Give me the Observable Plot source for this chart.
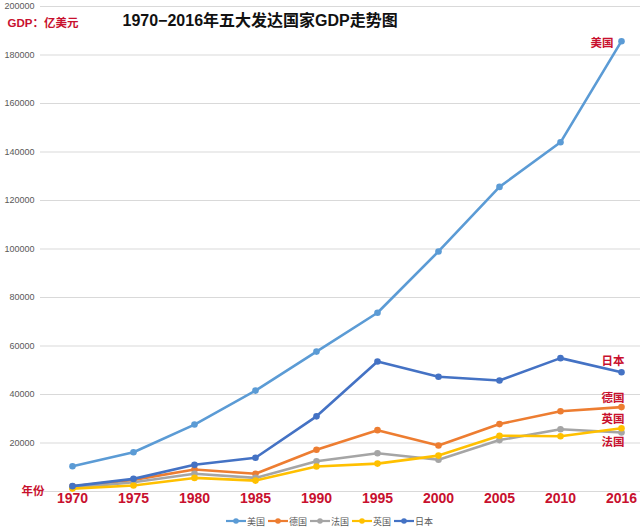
<!DOCTYPE html>
<html>
<head>
<meta charset="utf-8">
<script src="https://cdn.jsdelivr.net/npm/d3@7"></script>
<script src="https://cdn.jsdelivr.net/npm/@observablehq/plot@0.6"></script>
<style>
  html, body { margin: 0; padding: 0; background: #fff; }
  body { width: 640px; height: 530px; overflow: hidden; font-family: "Liberation Sans", "Noto Sans CJK SC", sans-serif; }
  #legend { height: 18px; display: flex; justify-content: center; align-items: center; padding-left: 22px; font-size: 9px; color: #595959; }
  #legend .item { display: flex; align-items: center; margin-right: 3px; }
  #legend svg { margin-right: 1px; }
</style>
</head>
<body>
<div id="chart"></div>
<div id="legend"></div>
<script>
const years = ["1970", "1975", "1980", "1985", "1990", "1995", "2000", "2005", "2010", "2016"];
const names = ["美国", "德国", "法国", "英国", "日本"];
const colors = ["#5B9BD5", "#ED7D31", "#A5A5A5", "#FFC000", "#4472C4"];
const us      = [10400, 16200, 27600, 41600, 57700, 73700, 99000, 125600, 144000, 185700];
const germany = [2100, 4800, 9100, 7300, 17200, 25300, 19000, 27800, 33100, 34800];
const france  = [1500, 3800, 7300, 5600, 12500, 15800, 13100, 21200, 25700, 24300];
const uk      = [1200, 2500, 5600, 4500, 10300, 11500, 14800, 23000, 22800, 26100];
const japan   = [2200, 5200, 11000, 13900, 31000, 53600, 47300, 45800, 55000, 49200];
const yTicks = [20000, 40000, 60000, 80000, 100000, 120000, 140000, 160000, 180000, 200000];
const gridTicks = [0, ...yTicks];
const title = "1970−2016年五大发达国家GDP走势图";
const unitLabel = "GDP：亿美元";
const xAxisLabel = "年份";

const seriesValues = [us, germany, france, uk, japan];
const series = names.map((name, i) => ({
  name, color: colors[i],
  data: years.map((year, j) => ({year, value: seriesValues[i][j], name}))
}));

const red = "#C8102E";
const font = "'Liberation Sans', 'Noto Sans CJK SC', sans-serif";

// end-label offsets (styling, in code)
const labelOffsets = {"美国": [-8, 2], "日本": [3, -11], "德国": [3, -9], "英国": [3, -9], "法国": [3, 10]};

const marks = [
  Plot.gridY(gridTicks, {stroke: "#D9D9D9", strokeOpacity: 1}),
  Plot.axisY(yTicks, {tickSize: 0, tickPadding: 6, tickFormat: d => String(d), fontSize: 9, fill: "#595959", label: null}),
  Plot.axisX({tickSize: 0, tickPadding: 2, fontSize: 14, fontWeight: "bold", fill: red, label: null})
];
for (const s of series) {
  marks.push(Plot.line(s.data, {x: "year", y: "value", stroke: s.color, strokeWidth: 2.6, strokeLinejoin: "round"}));
  marks.push(Plot.dot(s.data, {x: "year", y: "value", fill: s.color, r: 3.3}));
}
for (const s of series) {
  const last = s.data[s.data.length - 1];
  const [dx, dy] = labelOffsets[s.name];
  marks.push(Plot.text([last], {x: "year", y: "value", text: "name", textAnchor: "end", dx, dy, fill: red, fontWeight: "bold", fontSize: 11.5}));
}
marks.push(Plot.text([title], {frameAnchor: "top-left", dx: 82, dy: 14, lineAnchor: "middle", textAnchor: "start", fontSize: 16, fontWeight: "bold", fill: "#111"}));
marks.push(Plot.text([unitLabel], {frameAnchor: "top-left", dx: -33, dy: 17, lineAnchor: "middle", textAnchor: "start", fontSize: 11.5, fontWeight: "bold", fill: red}));
marks.push(Plot.text([xAxisLabel], {frameAnchor: "bottom-left", dx: -19, dy: 0, lineAnchor: "middle", textAnchor: "start", fontSize: 11.5, fontWeight: "bold", fill: red}));

const chart = Plot.plot({
  width: 640, height: 512,
  marginLeft: 40, marginRight: 0, marginTop: 6, marginBottom: 21,
  style: {fontFamily: font, background: "#fff"},
  x: {type: "point", domain: years, range: [71, 622], padding: 0},
  y: {domain: [0, 200000]},
  marks
});
document.getElementById("chart").appendChild(chart);

const legend = document.getElementById("legend");
for (const s of series) {
  const item = document.createElement("div");
  item.className = "item";
  item.innerHTML = `<svg width="20" height="8"><line x1="0" y1="4" x2="20" y2="4" stroke="${s.color}" stroke-width="2.2"/><circle cx="10" cy="4" r="2.8" fill="${s.color}"/></svg><span>${s.name}</span>`;
  legend.appendChild(item);
}
</script>
</body>
</html>
